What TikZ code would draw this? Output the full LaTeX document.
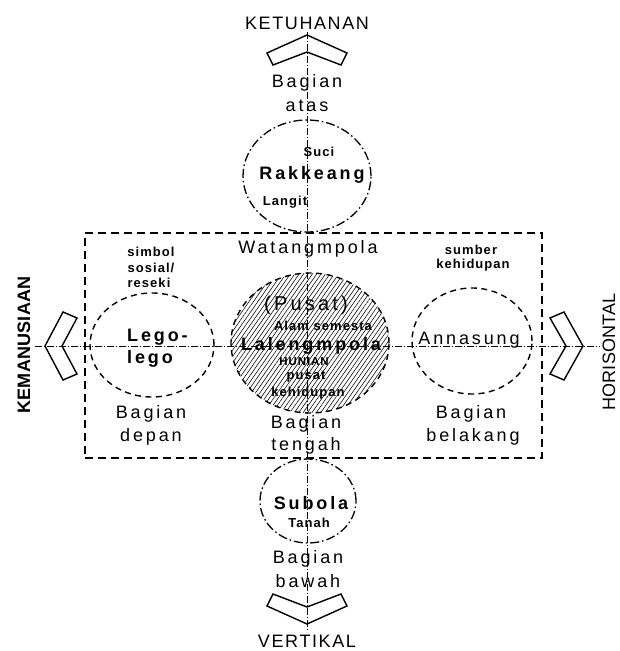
\documentclass[tikz,border=0pt]{standalone}
\usepackage{fontspec}
\setmainfont{Liberation Sans}
\newfontfamily\dinfont[LetterSpace=16]{Liberation Sans}
\newfontfamily\dinsmall[LetterSpace=8]{Liberation Sans}
\newfontfamily\dincap[LetterSpace=9]{Liberation Sans}
\newfontfamily\dinside[LetterSpace=1]{Liberation Sans}
\usetikzlibrary{shapes.geometric,patterns.meta}
\begin{document}
\begin{tikzpicture}[x=1pt,y=1pt,
  big/.style={font=\dinfont\fontsize{18}{18}\selectfont, inner sep=0pt},
  bigb/.style={font=\dinfont\bfseries\fontsize{18}{18}\selectfont, inner sep=0pt},
  small/.style={font=\dinsmall\bfseries\fontsize{13}{13}\selectfont, inner sep=0pt},
  ttl/.style={font=\dincap\fontsize{18}{18}\selectfont, inner sep=0pt},
  side/.style={font=\dinside\fontsize{18}{18}\selectfont, inner sep=0pt},
  sideb/.style={font=\dinside\bfseries\fontsize{18}{18}\selectfont, inner sep=0pt},
  axisline/.style={line width=0.6pt, dash pattern=on 7pt off 2pt on 1pt off 2pt},
  chev/.style={line width=1.4pt, line join=miter},
  dashell/.style={draw, ellipse, line width=1.4pt, dash pattern=on 6pt off 4.5pt, inner sep=0pt},
  dotell/.style={draw, ellipse, line width=1.3pt, dash pattern=on 9pt off 3pt on 1.5pt off 3pt, inner sep=0pt},
  framebox/.style={draw, line width=1.3pt, dash pattern=on 8pt off 5pt, inner sep=0pt},
]
\useasboundingbox (0,0) rectangle (620,-651);
\fill[white] (0,0) rectangle (620,-651);

% axes
\coordinate (vtop) at (307,-32);
\coordinate (vbot) at (307,-632);
\coordinate (hl) at (35,-346);
\coordinate (hr) at (600,-346);

% frame and ellipses
\node[framebox, minimum width=457, minimum height=225] (frame) at (313.5,-345.5) {};
\node[dotell, minimum width=128, minimum height=112] (top) at (307,-176) {};
\node[dashell, minimum width=158, minimum height=140,
      pattern={Lines[angle=55,distance=3.6pt,line width=0.55pt]}] (cen) at (310,-343) {};
\node[dashell, minimum width=124, minimum height=104] (left) at (152,-345) {};
\node[dashell, minimum width=120, minimum height=106] (right) at (472,-341) {};
\node[dotell, minimum width=96, minimum height=84] (bot) at (308,-501) {};

\draw[axisline] (vtop) -- (vbot);
\draw[axisline] (hl) -- (hr);

% chevrons
\draw[chev] (307,-35) -- (267,-53) -- (273,-65) -- (307,-52) -- (341,-65) -- (347,-53) -- cycle;
\draw[chev] (307,-624) -- (267,-606) -- (273,-594) -- (307,-607) -- (341,-594) -- (347,-606) -- cycle;
\draw[chev] (45,-346) -- (63,-312) -- (77,-318) -- (62,-346) -- (77,-374) -- (63,-380) -- cycle;
\draw[chev] (583,-346) -- (564,-312) -- (550,-318) -- (566,-346) -- (550,-374) -- (564,-380) -- cycle;

% titles
\node[ttl] (ketuhanan) at (307,-23) {KETUHANAN};
\node[ttl] (vertikal) at (307,-641) {VERTIKAL};
\node[sideb, rotate=90] (kemanusiaan) at (24,-345) {KEMANUSIAAN};
\node[side, rotate=90] (horisontal) at (609,-352) {HORISONTAL};

% top
\node[big] (atas1) at (307,-83) {Bagian};
\node[big] (atas2) at (307,-106) {atas};
\node[small] (suci) at (319,-152) {Suci};
\node[bigb] (rakkeang) at (312,-175) {Rakkeang};
\node[small] (langit) at (285,-202) {Langit};

% centre
\node[big, font=\dinfont\fontsize{20}{20}\selectfont] (pusat1) at (306,-305) {(Pusat)};
\node[big] (watang) at (308,-249) {Watangmpola};
\node[small] (alam) at (323,-326) {Alam semesta};
\node[bigb] (laleng) at (311,-346) {Lalengmpola};
\node[small, font=\dinsmall\bfseries\fontsize{11.5}{11.5}\selectfont] (hunian) at (304,-362) {HUNIAN};
\node[small] (pusat2) at (306,-377) {pusat};
\node[small] (kehid1) at (308,-393) {kehidupan};
\node[big] (tengah1) at (306,-424) {Bagian};
\node[big] (tengah2) at (306,-446) {tengah};

% left
\node[small] (simbol) at (151,-252) {simbol};
\node[small] (sosial) at (151,-268) {sosial/};
\node[small] (reseki) at (149,-283) {reseki};
\node[bigb, anchor=west] (lego1) at (127,-337) {Lego-};
\node[bigb, anchor=west] (lego2) at (127,-359) {lego};
\node[big] (depan1) at (151,-414) {Bagian};
\node[big] (depan2) at (151,-437) {depan};

% right
\node[small] (sumber) at (471,-250) {sumber};
\node[small] (kehid2) at (473,-265) {kehidupan};
\node[big] (annasung) at (469,-340) {Annasung};
\node[big] (belakang1) at (471,-414) {Bagian};
\node[big] (belakang2) at (473,-437) {belakang};

% bottom
\node[bigb] (subola) at (311,-503) {Subola};
\node[small] (tanah) at (309,-523) {Tanah};
\node[big] (bawah1) at (308,-559) {Bagian};
\node[big] (bawah2) at (308,-581) {bawah};
\end{tikzpicture}
\end{document}
